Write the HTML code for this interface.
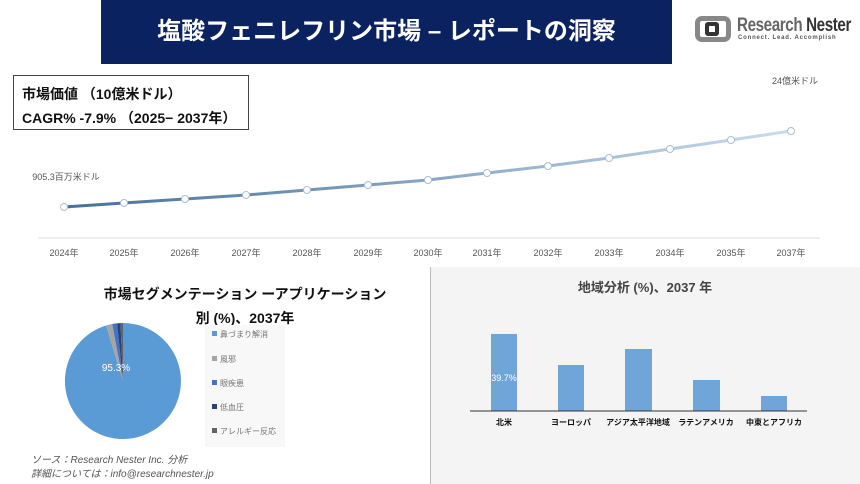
<!DOCTYPE html>
<html><head><meta charset="utf-8"><style>
body{margin:0;width:860px;height:484px;background:#fff;position:relative;overflow:hidden;font-family:"Liberation Sans","Noto Sans CJK JP",sans-serif;}
.abs{position:absolute;}
</style></head><body>
<div class="abs" style="left:101px;top:0px;width:571px;height:64px;background:#0b2260;color:#fff;font-size:24px;font-weight:bold;line-height:64px;text-align:center;white-space:nowrap">塩酸フェニレフリン市場 – レポートの洞察</div>

<div class="abs" style="left:695px;top:16px;width:36px;height:26px;border:5px solid #888;border-radius:7px;box-sizing:border-box;"></div>
<div class="abs" style="left:705px;top:22px;width:14px;height:14px;border:4px solid #333;border-radius:3px;box-sizing:border-box;background:#fff"></div>
<div class="abs" style="left:737px;top:15px;font-size:19px;font-weight:bold;color:#666;letter-spacing:-0.5px;transform:scaleX(0.8);transform-origin:left;white-space:nowrap">Research <span style="color:#333">Nester</span></div>
<div class="abs" style="left:738px;top:35px;font-size:6px;color:#555;letter-spacing:0.8px;white-space:nowrap;font-weight:bold">Connect. Lead. Accomplish</div>

<div class="abs" style="left:13px;top:75px;width:236px;height:55px;border:1px solid #444;box-sizing:border-box"></div>
<div class="abs" style="left:22px;top:84px;font-size:14px;font-weight:bold;color:#111;white-space:nowrap">市場価値 （10億米ドル）</div>
<div class="abs" style="left:22px;top:108px;font-size:14px;font-weight:bold;color:#111;white-space:nowrap">CAGR% -7.9% （2025− 2037年）</div>

<svg class="abs" style="left:0;top:0" width="860" height="270">
<defs><linearGradient id="g" x1="0" x2="1"><stop offset="0" stop-color="#46709a"/><stop offset="1" stop-color="#c9dcec"/></linearGradient></defs>
<line x1="38" y1="238" x2="820" y2="238" stroke="#ddd"/>
<polyline fill="none" stroke="url(#g)" stroke-width="3" points="64,207 124,203 185,199 246,195 307,190 368,185 428,180 487,173 548,166 609,158 670,149 731,140 791,131"/>
<g fill="#fff" stroke="#a9bfd6" stroke-width="1">
<circle cx="64" cy="207" r="3.5"/><circle cx="124" cy="203" r="3.5"/><circle cx="185" cy="199" r="3.5"/><circle cx="246" cy="195" r="3.5"/><circle cx="307" cy="190" r="3.5"/><circle cx="368" cy="185" r="3.5"/><circle cx="428" cy="180" r="3.5"/><circle cx="487" cy="173" r="3.5"/><circle cx="548" cy="166" r="3.5"/><circle cx="609" cy="158" r="3.5"/><circle cx="670" cy="149" r="3.5"/><circle cx="731" cy="140" r="3.5"/><circle cx="791" cy="131" r="3.5"/>
</g>
<g font-size="9" fill="#555" text-anchor="middle" font-family="Liberation Sans,Noto Sans CJK JP,sans-serif">
<text x="64" y="256">2024年</text><text x="124" y="256">2025年</text><text x="185" y="256">2026年</text><text x="246" y="256">2027年</text><text x="307" y="256">2028年</text><text x="368" y="256">2029年</text><text x="428" y="256">2030年</text><text x="487" y="256">2031年</text><text x="548" y="256">2032年</text><text x="609" y="256">2033年</text><text x="670" y="256">2034年</text><text x="731" y="256">2035年</text><text x="791" y="256">2037年</text>
<text x="66" y="180">905.3百万米ドル</text><text x="795" y="84">24億米ドル</text>
</g>
</svg>

<div class="abs" style="left:430px;top:267px;width:430px;height:217px;background:#f4f4f4;border-left:1px solid #bbb;"></div>
<div class="abs" style="left:90px;top:282px;width:310px;text-align:center;font-size:14px;font-weight:bold;color:#111;line-height:24px">市場セグメンテーション ーアプリケーション<br>別 (%)、2037年</div>
<div class="abs" style="left:205px;top:325px;width:80px;height:122px;background:#f8f8f8"></div>
<svg class="abs" style="left:0;top:270px" width="430" height="214" font-family="Liberation Sans,Noto Sans CJK JP,sans-serif">
<g transform="translate(123,111)">
<path d="M0,0 L0,-58 A58,58 0 1 1 -16.9,-55.5 Z" fill="#5b9bd5"/>
<path d="M0,0 L-16.9,-55.5 A58,58 0 0 1 -10.8,-57 Z" fill="#a5a5a5"/>
<path d="M0,0 L-10.8,-57 A58,58 0 0 1 -6,-57.7 Z" fill="#4472c4"/>
<path d="M0,0 L-6,-57.7 A58,58 0 0 1 -2.5,-57.9 Z" fill="#264478"/>
<path d="M0,0 L-2.5,-57.9 A58,58 0 0 1 0,-58 Z" fill="#636363"/>
<text x="-7" y="-10" font-size="10" fill="#fff" text-anchor="middle">95.3%</text>
</g>
<g font-size="8" fill="#777">
<rect x="212" y="61" width="5" height="5" fill="#5b9bd5"/><text x="220" y="67">鼻づまり解消</text>
<rect x="212" y="86" width="5" height="5" fill="#a5a5a5"/><text x="220" y="92">風邪</text>
<rect x="212" y="110" width="5" height="5" fill="#4472c4"/><text x="220" y="116">眼疾患</text>
<rect x="212" y="134" width="5" height="5" fill="#264478"/><text x="220" y="140">低血圧</text>
<rect x="212" y="158" width="5" height="5" fill="#636363"/><text x="220" y="164">アレルギー反応</text>
</g>
<g font-size="10" fill="#555" font-style="italic"><text x="31" y="193">ソース：Research Nester Inc. 分析</text><text x="31" y="207">詳細については：info@researchnester.jp</text></g>
</svg>

<svg class="abs" style="left:430px;top:270px" width="430" height="214" font-family="Liberation Sans,Noto Sans CJK JP,sans-serif">
<text x="215" y="22" font-size="13" font-weight="bold" fill="#444" text-anchor="middle">地域分析 (%)、2037 年</text>
<g fill="#6fa5d8">
<rect x="61" y="64" width="26" height="77"/><rect x="128" y="95" width="26" height="46"/><rect x="195" y="79" width="27" height="62"/><rect x="263" y="110" width="27" height="31"/><rect x="331" y="126" width="26" height="15"/>
</g>
<line x1="40" y1="141" x2="377" y2="141" stroke="#333" stroke-width="1"/>
<text x="74" y="111" font-size="9" fill="#fff" text-anchor="middle">39.7%</text>
<g font-size="8" fill="#111" text-anchor="middle" font-weight="bold">
<text x="74" y="155">北米</text><text x="141" y="155">ヨーロッパ</text><text x="208" y="155">アジア太平洋地域</text><text x="276" y="155">ラテンアメリカ</text><text x="344" y="155">中東とアフリカ</text>
</g>
</svg>
</body></html>
